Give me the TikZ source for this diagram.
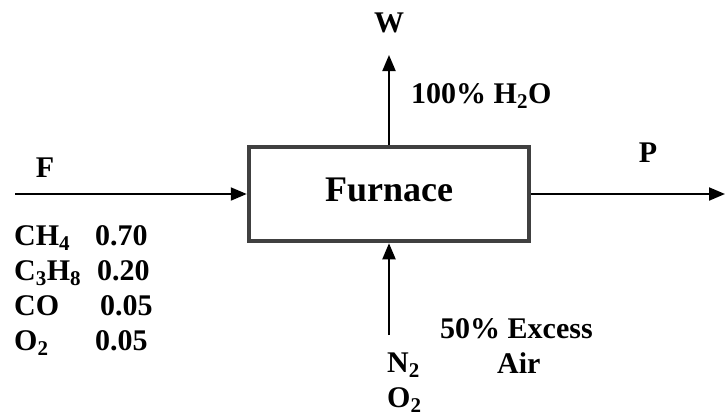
\documentclass[tikz,border=0pt]{standalone}
\usepackage{fontspec}
\setmainfont{Liberation Serif}
\usetikzlibrary{arrows.meta}

\begin{document}
\begin{tikzpicture}[x=1pt,y=-1pt,
  stream/.style={-{Triangle[length=16pt,width=13pt]},line width=2pt},
  lbl/.style={font=\fontsize{30}{34}\selectfont\bfseries,inner sep=0pt,anchor=base west}]
  \useasboundingbox (0,0) rectangle (726,416);
  % Furnace unit
  \node[draw=black!75,line width=4.5pt,minimum width=280pt,minimum height=94pt,
    inner sep=0pt,text depth=8pt,font=\fontsize{36}{40}\selectfont\bfseries] (furnace) at (389,194) {Furnace};
  % Feed stream F
  \coordinate (feed) at (15,194);
  \draw[stream] (feed) -- (furnace.west);
  \node[lbl,anchor=base] (flbl) at (45,177) {F};
  % Water stream W
  \coordinate (wout) at (389,55);
  \draw[stream] (furnace.north) -- (wout);
  \node[lbl,anchor=base] (wlbl) at (389,32) {W};
  \node[lbl] (wcomp) at (411,103) {100\% H\textsubscript{2}O};
  % Product stream P
  \coordinate (pout) at (725,194);
  \draw[stream] (furnace.east) -- (pout);
  \node[lbl,anchor=base] (plbl) at (648,162) {P};
  % Air feed
  \coordinate (airin) at (389,335);
  \draw[stream] (airin) -- (furnace.south);
  \node[lbl] (n2) at (387,372) {N\textsubscript{2}};
  \node[lbl] (o2air) at (387,407) {O\textsubscript{2}};
  \node[lbl] (excess) at (440,338) {50\% Excess};
  \node[lbl] (air) at (497,373) {Air};
  % Feed composition
  \node[lbl] (ch4) at (14,245) {CH\textsubscript{4}};
  \node[lbl] (xch4) at (95,245) {0.70};
  \node[lbl] (c3h8) at (14,280) {C\textsubscript{3}H\textsubscript{8}};
  \node[lbl] (xc3h8) at (97,280) {0.20};
  \node[lbl] (co) at (14,315) {CO};
  \node[lbl] (xco) at (100,315) {0.05};
  \node[lbl] (o2) at (14,350) {O\textsubscript{2}};
  \node[lbl] (xo2) at (95,350) {0.05};
\end{tikzpicture}
\end{document}
